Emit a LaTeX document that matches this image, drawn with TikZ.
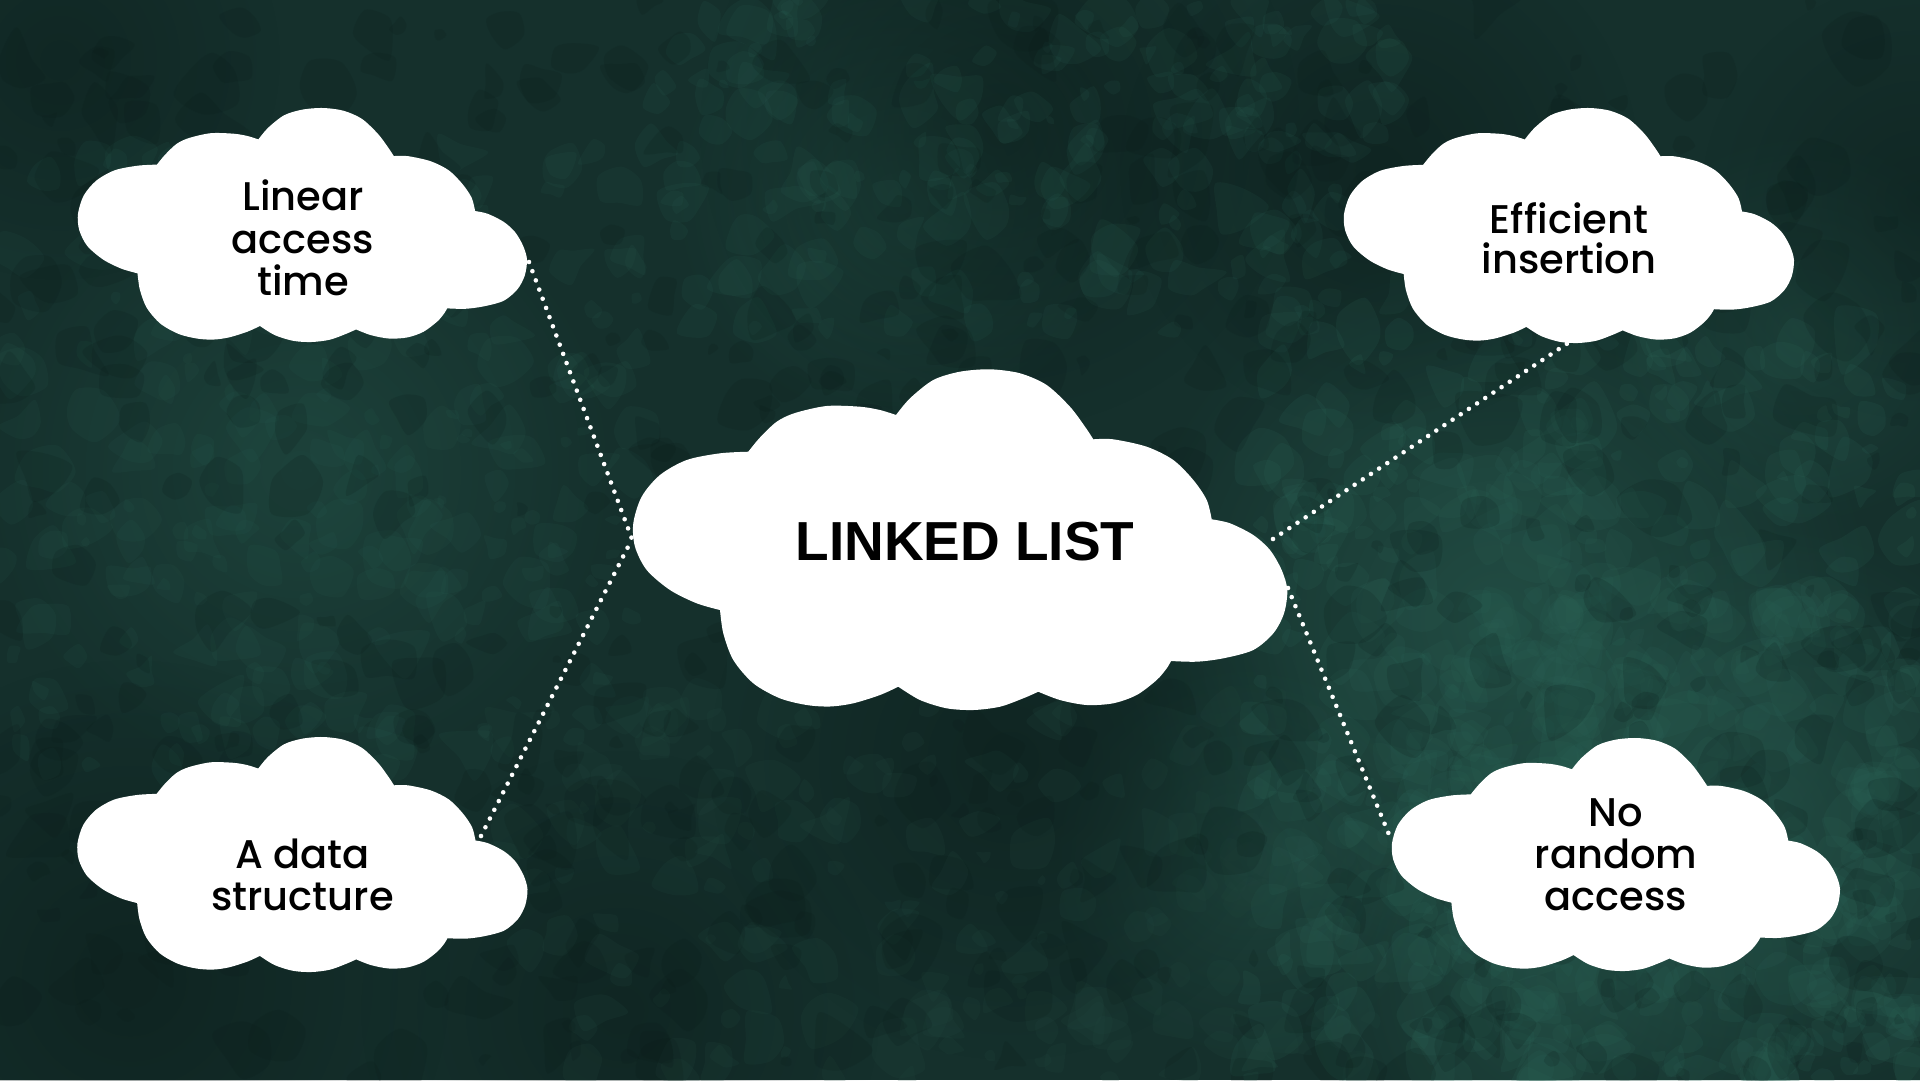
\documentclass[tikz,border=0pt]{standalone}
\usepackage{fontspec}
\usetikzlibrary{fadings}
\newfontfamily\qfont{Poppins Medium}
\newfontfamily\hfont{Liberation Sans}
\definecolor{bgbase}{HTML}{15302C}
\definecolor{bglight}{HTML}{2C6457}
\definecolor{bgmid}{HTML}{22483F}
\definecolor{bgdark}{HTML}{0A1A18}
\tikzfading[name=softfade, inner color=transparent!0, outer color=transparent!100]
\newcommand\mycloud[4]{%
\begin{scope}[shift={(#1,#2)},xscale=#3,yscale=#4]
\fill[white]
 plot[smooth] coordinates{(0.1758,0.2419)(0.1937,0.2002)(0.2193,0.1538)(0.2472,0.1283)(0.2957,0.1077)(0.3466,0.1098)(0.3772,0.1195)(0.4017,0.1341)}
 -- plot[smooth] coordinates{(0.4017,0.1341)(0.4231,0.0851)(0.4587,0.0314)(0.4995,0.0070)(0.5454,0)(0.5913,0.0117)(0.6321,0.0461)(0.6677,0.1098)(0.6907,0.1685)(0.7034,0.2055)}
 -- plot[smooth] coordinates{(0.7034,0.2055)(0.7339,0.2055)(0.7850,0.2272)(0.8257,0.2662)(0.8563,0.3249)(0.8768,0.3836)(0.8844,0.4403)}
 -- plot[smooth] coordinates{(0.8844,0.4403)(0.9124,0.4520)(0.9480,0.4864)(0.9735,0.5304)(0.9914,0.5891)(1.0,0.6478)(0.9950,0.7162)(0.9786,0.7749)(0.9480,0.8239)(0.9021,0.8483)(0.8615,0.8582)(0.8222,0.8562)}
 -- plot[smooth] coordinates{(0.8222,0.8562)(0.8156,0.8776)(0.8003,0.9120)(0.7697,0.9560)(0.7339,0.9803)(0.6933,0.9853)(0.6524,0.9707)(0.6193,0.9463)}
 -- plot[smooth] coordinates{(0.6193,0.9463)(0.5963,0.9657)(0.5607,0.9903)(0.5199,1.0)(0.4792,0.9950)(0.4384,0.9707)(0.4052,0.9316)}
 -- plot[smooth] coordinates{(0.4052,0.9316)(0.3772,0.9560)(0.3364,0.9803)(0.3008,0.9897)(0.2651,0.9853)(0.2243,0.9657)(0.1835,0.9216)(0.1529,0.8532)(0.1376,0.7749)(0.1326,0.7065)}
 -- plot[smooth] coordinates{(0.1326,0.7065)(0.0969,0.6868)(0.0561,0.6478)(0.0205,0.5891)(0.0026,0.5207)(0,0.4520)(0.0128,0.3739)(0.0408,0.3102)(0.0817,0.2662)(0.1326,0.2466)(0.1758,0.2419)}
 -- cycle;
\end{scope}}
\newcommand\softblob[4]{\fill[#4, path fading=softfade] (#1,#2) circle[radius=#3];}
\newcommand\patches[8]{%
\foreach \i in {1,...,#1}{%
  \pgfmathsetmacro\xx{#2+rnd*#4}%
  \pgfmathsetmacro\yy{#3+rnd*#5}%
  \pgfmathsetmacro\rr{#6+rnd*#7}%
  \pgfmathsetmacro\ra{\rr*(0.5+rnd)}%
  \pgfmathsetmacro\rb{\rr*(0.5+rnd)}%
  \pgfmathsetmacro\rc{\rr*(0.5+rnd)}%
  \pgfmathsetmacro\rd{\rr*(0.5+rnd)}%
  \pgfmathsetmacro\re{\rr*(0.5+rnd)}%
  \pgfmathsetmacro\rf{\rr*(0.5+rnd)}%
  \pgfmathsetmacro\rt{rnd*360}%
  \begin{scope}[shift={(\xx,\yy)},rotate=\rt]
  \fill[#8] plot[smooth cycle] coordinates{(0:\ra)(60:\rb)(120:\rc)(180:\rd)(240:\re)(300:\rf)};
  \end{scope}}}
\tikzset{
  linktxt/.style={font=\qfont\fontsize{40}{42}\selectfont, text=black, inner sep=0pt, anchor=base},
  titletxt/.style={font=\hfont\bfseries\fontsize{55}{60}\selectfont, text=black, inner sep=0pt, anchor=base},
  dotline/.style={white, line width=4.6pt, line cap=round, dash pattern=on 0pt off 9.8pt}
}
\begin{document}
\begin{tikzpicture}[x=1pt,y=-1pt]
\useasboundingbox (0,0) rectangle (1920,1080);
% background
\fill[bgbase] (0,0) rectangle (1920,1080);
\softblob{1500}{620}{380}{bglight,opacity=0.55}
\softblob{1760}{820}{300}{bglight,opacity=0.5}
\softblob{1560}{980}{260}{bglight,opacity=0.45}
\softblob{300}{470}{320}{bglight,opacity=0.35}
\softblob{900}{200}{230}{bglight,opacity=0.35}
\softblob{1250}{860}{200}{bglight,opacity=0.35}
\softblob{1800}{330}{200}{bglight,opacity=0.3}
\softblob{1000}{130}{300}{bgdark,opacity=0.55}
\softblob{1380}{170}{260}{bgdark,opacity=0.5}
\softblob{130}{980}{320}{bgdark,opacity=0.55}
\softblob{620}{1010}{260}{bgdark,opacity=0.45}
\softblob{1010}{760}{300}{bgdark,opacity=0.5}
\softblob{60}{60}{220}{bgdark,opacity=0.4}
\softblob{1920}{200}{220}{bgdark,opacity=0.4}
\pgfmathsetseed{11}
\patches{450}{1250}{330}{670}{750}{6}{24}{bglight,opacity=0.16}
\patches{220}{1400}{600}{520}{480}{6}{24}{bglight,opacity=0.16}
\patches{260}{0}{150}{650}{620}{5}{20}{bglight,opacity=0.11}
\patches{220}{650}{0}{750}{330}{5}{20}{bglight,opacity=0.12}
\patches{180}{500}{700}{900}{380}{5}{20}{bgmid,opacity=0.18}
\patches{600}{0}{0}{1920}{1080}{5}{24}{bgdark,opacity=0.16}
% connector end points
\coordinate (tlEnd) at (529,262);
\coordinate (cL) at (632,539);
\coordinate (blEnd) at (481,836);
\coordinate (cR1) at (1273,539);
\coordinate (trEnd) at (1568,343);
\coordinate (cR2) at (1288,588);
\coordinate (brEnd) at (1390,837);
\draw[dotline] (tlEnd) -- (cL);
\draw[dotline] (blEnd) -- (cL);
\draw[dotline] (cR1) -- (trEnd);
\draw[dotline] (cR2) -- (brEnd);
% clouds
\mycloud{78}{108}{449}{234}
\mycloud{1344}{108}{450}{235}
\mycloud{77.5}{737}{450}{235}
\mycloud{1392}{738}{448}{233}
\mycloud{633.3}{369.3}{654}{340.7}
% texts
\node[titletxt] (title) at (965,560) {LINKED LIST};
\node[linktxt] (tl1) at (303,210.7) {Linear};
\node[linktxt] (tl2) at (303,253) {access};
\node[linktxt] (tl3) at (303,295.5) {time};
\node[linktxt] (tr1) at (1569,233.3) {Efficient};
\node[linktxt] (tr2) at (1569,273.3) {insertion};
\node[linktxt] (bl1) at (302.5,868.3) {A data};
\node[linktxt] (bl2) at (302.5,910) {structure};
\node[linktxt] (br1) at (1616,826.7) {No};
\node[linktxt] (br2) at (1616,868.3) {random};
\node[linktxt] (br3) at (1616,910) {access};
\end{tikzpicture}
\end{document}
